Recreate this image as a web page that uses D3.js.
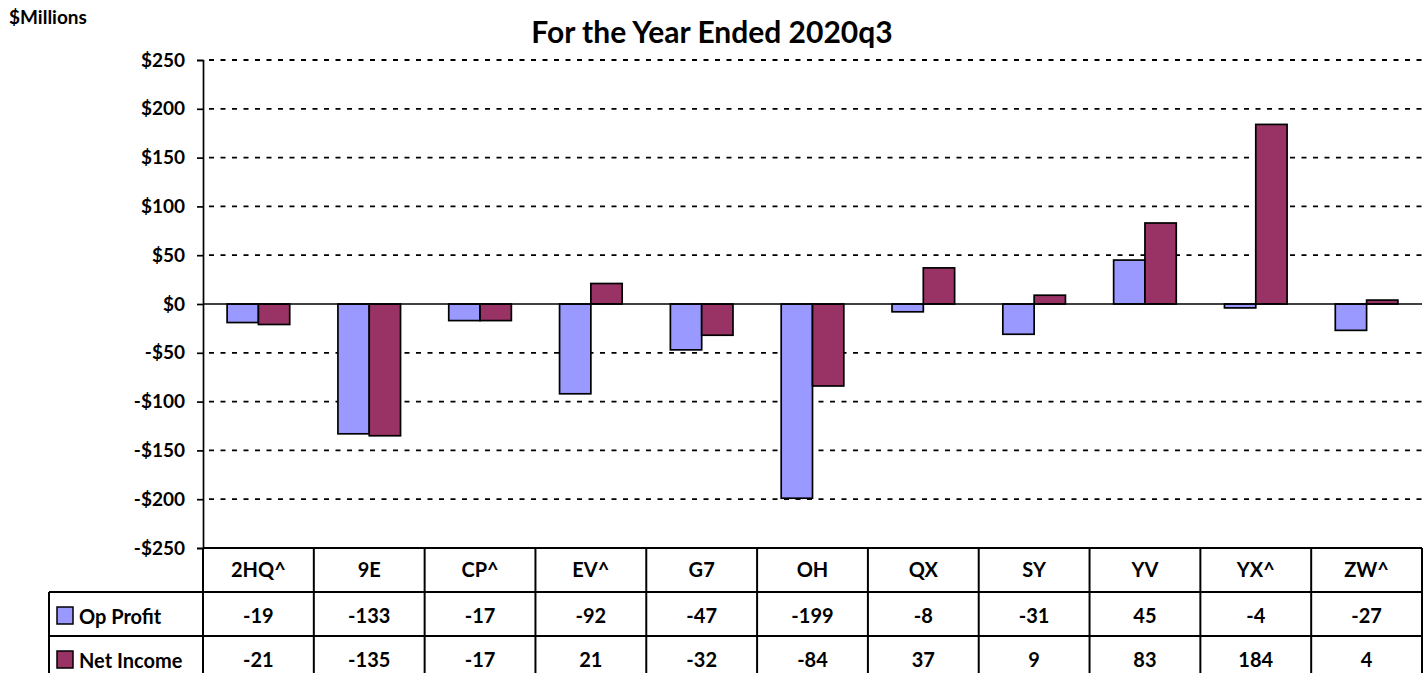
<!DOCTYPE html>
<html>
<head>
<meta charset="utf-8">
<script src="https://cdn.jsdelivr.net/npm/d3@7"></script>
<style>
  body { margin: 0; background: #fff; }
  svg text { font-family: Lato, "Open Sans", sans-serif; font-weight: bold; fill: #000; }
</style>
</head>
<body>
<div class="chart"></div>
<script>
// data
const categories = ["2HQ^", "9E", "CP^", "EV^", "G7", "OH", "QX", "SY", "YV", "YX^", "ZW^"];
const opProfit = [-19, -133, -17, -92, -47, -199, -8, -31, 45, -4, -27];
const netIncome = [-21, -135, -17, 21, -32, -84, 37, 9, 83, 184, 4];
const seriesNames = ["Op Profit", "Net Income"];
const seriesColors = ["#9999FF", "#993366"];
const yTicks = [250, 200, 150, 100, 50, 0, -50, -100, -150, -200, -250];

const W = 1427, H = 673;
const plotLeft = 203, plotRight = 1422, plotTop = 60, plotBottom = 548;
const rowH = 44;
const tableLeft = 49;

const svg = d3.select(".chart").append("svg")
    .attr("width", W)
    .attr("height", H);

// scales
const x = d3.scaleBand().domain(categories).range([plotLeft, plotRight]);
const xs = d3.scaleBand().domain(seriesNames)
    .range([0, x.bandwidth()]).paddingOuter(0.77).paddingInner(0);
const y = d3.scaleLinear().domain([-250, 250]).range([plotBottom, plotTop]);

// titles
svg.append("text")
    .attr("x", 9).attr("y", 24)
    .style("font-size", "19px")
    .text("$Millions");

svg.append("text")
    .attr("x", 712).attr("y", 43)
    .attr("text-anchor", "middle")
    .style("font-size", "30px")
    .text("For the Year Ended 2020q3");

// gridlines
svg.append("g").selectAll("line")
    .data(yTicks.filter(d => d !== 0))
    .enter().append("line")
    .attr("x1", plotLeft).attr("x2", plotRight)
    .attr("y1", d => y(d)).attr("y2", d => y(d))
    .attr("stroke", "#000")
    .attr("stroke-width", 1.8)
    .attr("stroke-dasharray", "5,6.5")
    .attr("stroke-dashoffset", -6);

// y axis
const yAxis = svg.append("g")
    .attr("transform", `translate(${plotLeft},0)`)
    .call(d3.axisLeft(y).tickValues(yTicks).tickSize(6).tickPadding(12)
        .tickFormat(d => (d < 0 ? "-$" : "$") + Math.abs(d)));
yAxis.select(".domain").attr("stroke-width", 1.7);
yAxis.selectAll(".tick line").attr("stroke-width", 1.7);
yAxis.selectAll("text").style("font-size", "19px").style("font-family", "Lato, sans-serif");

// bars
const rows = categories.map((c, i) => ({ cat: c, vals: [opProfit[i], netIncome[i]] }));
const groups = svg.append("g").selectAll("g")
    .data(rows)
    .enter().append("g")
    .attr("transform", d => `translate(${x(d.cat)},0)`);

groups.selectAll("rect")
    .data(d => d.vals.map((v, j) => ({ name: seriesNames[j], v: v, color: seriesColors[j] })))
    .enter().append("rect")
    .attr("x", d => xs(d.name))
    .attr("width", xs.bandwidth())
    .attr("y", d => y(Math.max(0, d.v)))
    .attr("height", d => Math.abs(y(d.v) - y(0)))
    .attr("fill", d => d.color)
    .attr("stroke", "#000")
    .attr("stroke-width", 1.7);

// zero line
svg.append("line")
    .attr("x1", plotLeft).attr("x2", plotRight)
    .attr("y1", y(0)).attr("y2", y(0))
    .attr("stroke", "#000")
    .attr("stroke-width", 1.5);

// data table
const table = svg.append("g");
const tableBottom = plotBottom + rowH * 3;

// horizontal lines
table.append("line")
    .attr("x1", plotLeft).attr("x2", plotRight)
    .attr("y1", plotBottom).attr("y2", plotBottom)
    .attr("stroke", "#000").attr("stroke-width", 2);
[1, 2, 3].forEach(r => {
    table.append("line")
        .attr("x1", tableLeft).attr("x2", plotRight)
        .attr("y1", plotBottom + rowH * r).attr("y2", plotBottom + rowH * r)
        .attr("stroke", "#000").attr("stroke-width", 2);
});

// vertical lines
table.append("line")
    .attr("x1", tableLeft).attr("x2", tableLeft)
    .attr("y1", plotBottom + rowH).attr("y2", tableBottom)
    .attr("stroke", "#000").attr("stroke-width", 2);
table.selectAll(".vline")
    .data(categories.map(c => x(c)).concat([plotRight]))
    .enter().append("line")
    .attr("class", "vline")
    .attr("x1", d => d).attr("x2", d => d)
    .attr("y1", plotBottom).attr("y2", tableBottom)
    .attr("stroke", "#000").attr("stroke-width", 2);

// header
table.selectAll(".hdr")
    .data(categories)
    .enter().append("text")
    .attr("class", "hdr")
    .attr("x", d => x(d) + x.bandwidth() / 2)
    .attr("y", plotBottom + rowH / 2 + 7)
    .attr("text-anchor", "middle")
    .style("font-size", "20px")
    .text(d => d);

// value rows
[opProfit, netIncome].forEach((vals, r) => {
    const cy = plotBottom + rowH * (r + 1) + rowH / 2;
    table.append("rect")
        .attr("x", 57).attr("y", cy - 7)
        .attr("width", 16).attr("height", 17)
        .attr("fill", seriesColors[r])
        .attr("stroke", "#000").attr("stroke-width", 1.5);
    table.append("text")
        .attr("x", 79).attr("y", cy + 10)
        .style("font-size", "20px")
        .text(seriesNames[r]);
    table.selectAll(".v" + r)
        .data(vals)
        .enter().append("text")
        .attr("class", "v" + r)
        .attr("x", (d, i) => x(categories[i]) + x.bandwidth() / 2)
        .attr("y", cy + 9)
        .attr("text-anchor", "middle")
        .style("font-size", "20px")
        .text(d => d);
});
</script>
</body>
</html>
